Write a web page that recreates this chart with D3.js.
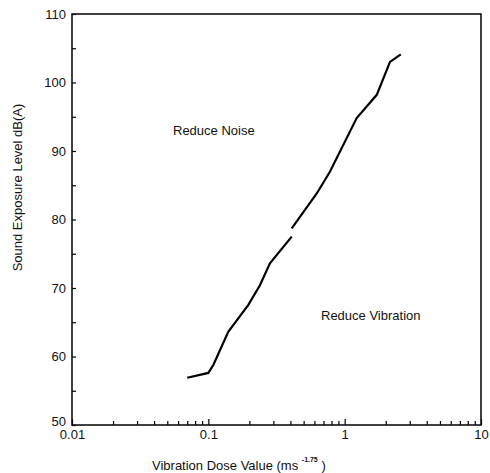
<!DOCTYPE html>
<html>
<head>
<meta charset="utf-8">
<script src="https://cdn.jsdelivr.net/npm/d3@7"></script>
<style>
  body { margin: 0; background: #fff; }
  text { font-family: "Liberation Sans", Arial, sans-serif; fill: #111; }
</style>
</head>
<body>
<svg id="chart" width="490" height="473"></svg>
<script>
// boundary curve, drawn in two pieces (there is a gap near 0.4)
const lowerX = [0.070, 0.100, 0.109, 0.140, 0.196, 0.239, 0.283, 0.409];
const lowerY = [56.9, 57.6, 58.8, 63.6, 67.5, 70.4, 73.6, 77.5];
const upperX = [0.409, 0.624, 0.781, 1.225, 1.72, 2.15, 2.58];
const upperY = [78.7, 83.8, 87.0, 94.8, 98.2, 103.0, 104.1];

const xTicks = [0.01, 0.1, 1, 10];
const xTickLabels = ["0.01", "0.1", "1", "10"];
const yTicks = [50, 60, 70, 80, 90, 100, 110];

let margin = { top: 14, right: 9, bottom: 48, left: 72 };
let width = 490 - margin.left - margin.right;
let height = 473 - margin.top - margin.bottom;

let svg = d3.select("#chart").append("g")
    .attr("transform", "translate(" + margin.left + "," + margin.top + ")");

let x = d3.scaleLog().domain([0.01, 10]).range([0, width]);
let y = d3.scaleLinear().domain([50, 110]).range([height, 0]);

// minor ticks 2..9 inside each decade
let minorX = [];
for (let d = 0.01; d < 10; d *= 10) {
    for (let k = 2; k <= 9; k++) minorX.push(d * k);
}

svg.append("g")
    .attr("transform", `translate(0,${height})`)
    .call(d3.axisBottom(x).tickValues(minorX).tickSize(-4).tickFormat(""))
    .call(g => g.select(".domain").remove())
    .selectAll("line").attr("stroke-width", 1.2);

svg.append("g")
    .attr("transform", `translate(0,${height})`)
    .call(d3.axisBottom(x).tickValues(xTicks).tickSize(-6).tickPadding(5)
        .tickFormat((d, i) => xTickLabels[i]))
    .call(g => g.select(".domain").remove())
    .call(g => g.selectAll("line").attr("stroke-width", 1.2))
    .selectAll("text").attr("font-size", 13);

svg.append("g")
    .call(d3.axisLeft(y).tickValues(d3.range(55, 110, 10)).tickSize(-4).tickFormat(""))
    .call(g => g.select(".domain").remove())
    .selectAll("line").attr("stroke-width", 1.2);

svg.append("g")
    .call(d3.axisLeft(y).tickValues(yTicks).tickSize(-4).tickPadding(6))
    .call(g => g.select(".domain").remove())
    .call(g => g.selectAll("line").attr("stroke-width", 1.2))
    .selectAll("text")
        .attr("font-size", 13)
        .attr("dy", d => d === 50 ? "0.05em" : "0.32em");

// frame
svg.append("rect")
    .attr("width", width)
    .attr("height", height)
    .attr("fill", "none")
    .attr("stroke", "#111")
    .attr("stroke-width", 1.6);

let line = d3.line().x(d => x(d[0])).y(d => y(d[1]));

svg.append("path")
    .datum(d3.zip(lowerX, lowerY))
    .attr("d", line)
    .attr("fill", "none")
    .attr("stroke", "#000")
    .attr("stroke-width", 2.2);

svg.append("path")
    .datum(d3.zip(upperX, upperY))
    .attr("d", line)
    .attr("fill", "none")
    .attr("stroke", "#000")
    .attr("stroke-width", 2.2);

// region labels
svg.append("text")
    .attr("x", 101).attr("y", 121)
    .attr("font-size", 13)
    .text("Reduce Noise");

svg.append("text")
    .attr("x", 249).attr("y", 306)
    .attr("font-size", 13)
    .text("Reduce Vibration");

// axis titles
svg.append("text")
    .attr("transform", `translate(-50,${height / 2 - 32}) rotate(-90)`)
    .attr("text-anchor", "middle")
    .attr("font-size", 13)
    .text("Sound Exposure Level dB(A)");

let xt = svg.append("text")
    .attr("x", 80).attr("y", height + 45)
    .attr("font-size", 13);
xt.append("tspan").text("Vibration Dose Value (ms ");
xt.append("tspan").attr("dy", -8).attr("font-size", 7).attr("font-weight", "bold").text("-1.75");
xt.append("tspan").attr("dy", 8).text(" )");
</script>
</body>
</html>
